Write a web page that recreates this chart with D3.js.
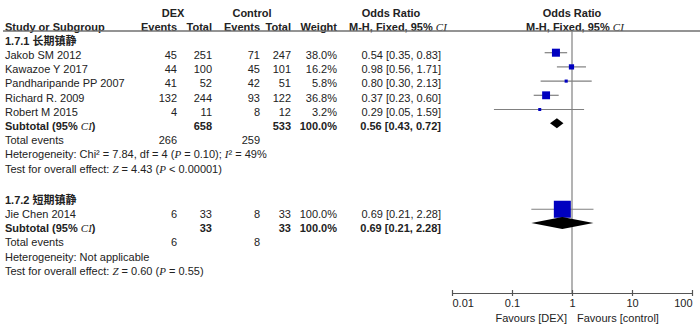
<!DOCTYPE html>
<html><head><meta charset="utf-8">
<script src="https://cdn.jsdelivr.net/npm/d3@7"></script>
<style>
body{margin:0;background:#fff;}
svg text{font-family:"Liberation Sans",Arial,"Noto Sans CJK SC",sans-serif;font-size:11px;fill:#222;}
</style></head>
<body><svg id="c" width="700" height="327"></svg>
<script>
// ---- data ----
const groupNames = ["1.7.1 长期镇静", "1.7.2 短期镇静"];
const studies1 = ["Jakob SM 2012", "Kawazoe Y 2017", "Pandharipande PP 2007", "Richard R. 2009", "Robert M 2015"];
const dexEvents1 = [45, 44, 41, 132, 4];
const dexTotal1 = [251, 100, 52, 244, 11];
const ctrlEvents1 = [71, 45, 42, 93, 8];
const ctrlTotal1 = [247, 101, 51, 122, 12];
const weight1 = [38.0, 16.2, 5.8, 36.8, 3.2];
const or1 = [0.54, 0.98, 0.80, 0.37, 0.29];
const lo1 = [0.35, 0.56, 0.30, 0.23, 0.05];
const hi1 = [0.83, 1.71, 2.13, 0.60, 1.59];

const studies2 = ["Jie Chen 2014"];
const dexEvents2 = [6];
const dexTotal2 = [33];
const ctrlEvents2 = [8];
const ctrlTotal2 = [33];
const weight2 = [100.0];
const or2 = [0.69];
const lo2 = [0.21];
const hi2 = [2.28];

const subtotalOR = [0.56, 0.69];
const subtotalLo = [0.43, 0.21];
const subtotalHi = [0.72, 2.28];
const subtotalDexN = [658, 33];
const subtotalCtrlN = [533, 33];
const totalDexEvents = [266, 6];
const totalCtrlEvents = [259, 8];
const heterogeneity = [
  [["Heterogeneity: Chi² = 7.84, df = 4 (",0],["P",1],[" = 0.10); ",0],["I",1],["² = 49%",0]],
  [["Heterogeneity: Not applicable",0]]
];
const overallEffect = [
  [["Test for overall effect: ",0],["Z",1],[" = 4.43 (",0],["P",1],[" < 0.00001)",0]],
  [["Test for overall effect: ",0],["Z",1],[" = 0.60 (",0],["P",1],[" = 0.55)",0]]
];
const tickValues = [0.01, 0.1, 1, 10, 100];
const tickLabels = ["0.01", "0.1", "1", "10", "100"];
const favours = ["Favours [DEX]", "Favours [control]"];

// ---- layout ----
const svg = d3.select("#c");
const x = d3.scaleLog().domain([0.01, 100]).range([452, 692]);
const rowY = i => 41 + i * 14.2;
const col = {name: 5, dexE: 177, dexN: 212, ctrlE: 260, ctrlN: 291, w: 337, or: 441};
const fmt2 = d3.format(".2f");
const orText = (o, l, h) => `${fmt2(o)} [${fmt2(l)}, ${fmt2(h)}]`;

function txt(xp, y, s, anchor, bold) {
  return svg.append("text").attr("x", xp).attr("y", y).attr("dy", "0.35em")
    .attr("text-anchor", anchor || "start").attr("font-weight", bold ? "bold" : null).text(s);
}
function rich(xp, y, parts, bold) {
  const t = svg.append("text").attr("x", xp).attr("y", y).attr("dy", "0.35em")
    .attr("font-weight", bold ? "bold" : null);
  parts.forEach(([s, it]) => {
    const ts = t.append("tspan").text(s);
    if (it) ts.style("font-family", "'Liberation Serif','Times New Roman',serif").style("font-style", "italic").style("font-weight", "normal");
  });
  return t;
}

// header
txt(173, 13, "DEX", "middle", true);
txt(252, 13, "Control", "middle", true);
txt(391, 13, "Odds Ratio", "middle", true);
txt(572, 13, "Odds Ratio", "middle", true);
txt(col.name, 27, "Study or Subgroup", "start", true);
txt(col.dexE, 27, "Events", "end", true);
txt(col.dexN, 27, "Total", "end", true);
txt(col.ctrlE, 27, "Events", "end", true);
txt(col.ctrlN, 27, "Total", "end", true);
txt(col.w, 27, "Weight", "end", true);
rich(349, 27, [["M-H, Fixed, 95% ",0],["CI",1]], true);
rich(526, 27, [["M-H, Fixed, 95% ",0],["CI",1]], true);

svg.append("line").attr("x1", 3).attr("x2", 700).attr("y1", 31).attr("y2", 31)
  .attr("stroke", "#707070").attr("stroke-width", 1.3);

// null line
svg.append("line").attr("x1", x(1)).attr("x2", x(1)).attr("y1", 31).attr("y2", 293)
  .attr("stroke", "#808080").attr("stroke-width", 1.2);

const groups = [
  {studies: studies1, dE: dexEvents1, dN: dexTotal1, cE: ctrlEvents1, cN: ctrlTotal1, w: weight1, or: or1, lo: lo1, hi: hi1, start: 0, box: 13, dh: 10, mOff: -2.5, dOff: -3},
  {studies: studies2, dE: dexEvents2, dN: dexTotal2, cE: ctrlEvents2, cN: ctrlTotal2, w: weight2, or: or2, lo: lo2, hi: hi2, start: 11.2, box: 17, dh: 12, mOff: -5, dOff: -5.5}
];

groups.forEach((g, gi) => {
  let r = g.start;
  txt(col.name, rowY(r), groupNames[gi], "start", true);
  const size = d3.scaleSqrt().domain([0, 100]).range([0, g.box]);
  g.studies.forEach((s, i) => {
    r++;
    const y = rowY(r);
    txt(col.name, y, s);
    txt(col.dexE, y, g.dE[i], "end");
    txt(col.dexN, y, g.dN[i], "end");
    txt(col.ctrlE, y, g.cE[i], "end");
    txt(col.ctrlN, y, g.cN[i], "end");
    txt(col.w, y, g.w[i].toFixed(1) + "%", "end");
    txt(col.or, y, orText(g.or[i], g.lo[i], g.hi[i]), "end");
    const my = y + g.mOff;
    svg.append("line").attr("x1", x(g.lo[i])).attr("x2", x(g.hi[i])).attr("y1", my).attr("y2", my)
      .attr("stroke", "#808080").attr("stroke-width", 1.2);
    const sz = Math.max(3, size(g.w[i]));
    svg.append("rect").attr("x", x(g.or[i]) - sz / 2).attr("y", my - sz / 2)
      .attr("width", sz).attr("height", sz).attr("fill", "#0000c0");
  });
  r++;
  let y = rowY(r);
  rich(col.name, y, [["Subtotal (95% ",0],["CI",1],[")",0]], true);
  txt(col.dexN, y, subtotalDexN[gi], "end", true);
  txt(col.ctrlN, y, subtotalCtrlN[gi], "end", true);
  txt(col.w, y, "100.0%", "end", true);
  txt(col.or, y, orText(subtotalOR[gi], subtotalLo[gi], subtotalHi[gi]), "end", true);
  const dy = y + g.dOff, h = g.dh / 2;
  svg.append("path").attr("d",
    `M${x(subtotalLo[gi])},${dy} L${x(subtotalOR[gi])},${dy - h} L${x(subtotalHi[gi])},${dy} L${x(subtotalOR[gi])},${dy + h} Z`)
    .attr("fill", "#000");
  r++; y = rowY(r);
  txt(col.name, y, "Total events");
  txt(col.dexE, y, totalDexEvents[gi], "end");
  txt(col.ctrlE, y, totalCtrlEvents[gi], "end");
  r++; rich(col.name, rowY(r), heterogeneity[gi]);
  r++; rich(col.name, rowY(r), overallEffect[gi]);
});

// axis
const axis = d3.axisBottom(x).tickValues(tickValues).tickFormat((d, i) => tickLabels[i]).tickSize(6).tickSizeOuter(0);
const ag = svg.append("g").attr("transform", "translate(0,293)").call(axis);
ag.select(".domain").attr("stroke", "#555").attr("stroke-width", 1.2);
ag.selectAll(".tick line").attr("y1", -3).attr("y2", 3).attr("stroke", "#555").attr("stroke-width", 1.2);
ag.selectAll(".tick text").attr("y", 10).attr("dy", "0.35em")
  .style("font-family", "'Liberation Sans',Arial,sans-serif").style("font-size", "11px").attr("fill", "#222")
  .attr("text-anchor", (d, i) => i === 0 ? "start" : (i === tickValues.length - 1 ? "end" : "middle"));
ag.attr("font-family", null).attr("font-size", null);

txt(x(1) - 5, 318, favours[0], "end");
txt(x(1) + 5, 318, favours[1], "start");
</script></body></html>
